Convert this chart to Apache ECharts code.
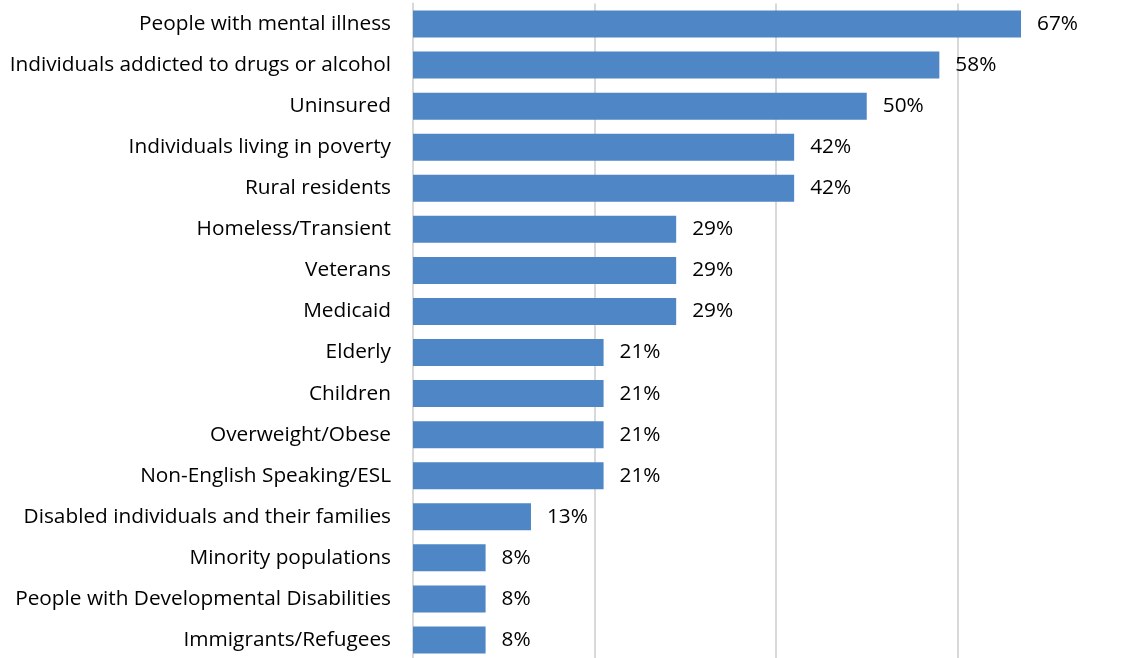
<!DOCTYPE html>
<html>
<head>
<meta charset="utf-8">
<script src="https://cdn.jsdelivr.net/npm/echarts@6/dist/echarts.min.js"></script>
<style>
  html, body { margin: 0; padding: 0; background: #fff; }
  #chart { width: 1128px; height: 658px; }
</style>
</head>
<body>
<div id="chart"></div>
<script>
// Populations served, share of respondents (%)
const categories = [
  "People with mental illness",
  "Individuals addicted to drugs or alcohol",
  "Uninsured",
  "Individuals living in poverty",
  "Rural residents",
  "Homeless/Transient",
  "Veterans",
  "Medicaid",
  "Elderly",
  "Children",
  "Overweight/Obese",
  "Non-English Speaking/ESL",
  "Disabled individuals and their families",
  "Minority populations",
  "People with Developmental Disabilities",
  "Immigrants/Refugees"
];
const values = [67, 58, 50, 42, 42, 29, 29, 29, 21, 21, 21, 21, 13, 8, 8, 8];
const axisMax = 80;
const axisStep = 20;

const FONT = "'Open Sans', sans-serif";
const chart = echarts.init(document.getElementById('chart'), null, { renderer: 'canvas' });
chart.setOption({
  animation: false,
  grid: { left: 413, top: 3.5, height: 657, width: 726, containLabel: false, outerBoundsMode: 'none' },
  xAxis: {
    type: 'value',
    min: 0,
    max: axisMax,
    interval: axisStep,
    axisLabel: { show: false },
    axisLine: { show: false },
    axisTick: { show: false },
    splitLine: { show: true, lineStyle: { color: '#d9d9d9', width: 2 } }
  },
  yAxis: {
    type: 'category',
    data: categories,
    inverse: true,
    axisLine: { show: true, lineStyle: { color: '#d9d9d9', width: 2 } },
    axisTick: { show: false },
    axisLabel: { color: '#000', fontFamily: FONT, fontSize: 20.8, margin: 22 }
  },
  series: [{
    type: 'bar',
    data: values,
    barWidth: 27,
    itemStyle: { color: '#4e86c6' },
    label: {
      show: true,
      position: 'right',
      distance: 16,
      color: '#000',
      fontFamily: FONT,
      fontSize: 20.8,
      formatter: p => p.value + '%'
    }
  }]
});
</script>
</body>
</html>
